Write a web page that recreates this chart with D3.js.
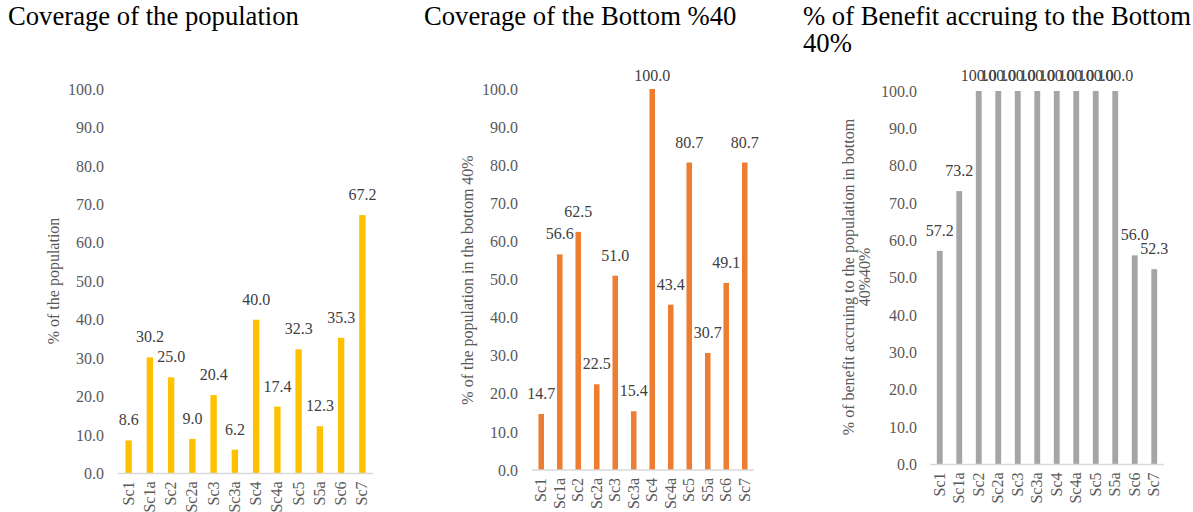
<!DOCTYPE html>
<html>
<head>
<meta charset="utf-8">
<script src="https://cdn.jsdelivr.net/npm/d3@7"></script>
<style>
  html, body { margin: 0; padding: 0; background: #fff; }
  svg text { font-family: 'Liberation Serif', 'Times New Roman', Tinos, serif !important; }
</style>
</head>
<body>
<svg id="chart" width="1193" height="512"></svg>
<script>
// Scenario categories shared by all three panels
const categories = ["Sc1", "Sc1a", "Sc2", "Sc2a", "Sc3", "Sc3a", "Sc4", "Sc4a", "Sc5", "S5a", "Sc6", "Sc7"];

// Coverage of the population (%)
const coverageAll = [8.6, 30.2, 25.0, 9.0, 20.4, 6.2, 40.0, 17.4, 32.3, 12.3, 35.3, 67.2];
// Coverage of the bottom 40% (%)
const coverageBottom40 = [14.7, 56.6, 62.5, 22.5, 51.0, 15.4, 100.0, 43.4, 80.7, 30.7, 49.1, 80.7];
// Share of benefit accruing to the bottom 40% (%)
const benefitBottom40 = [57.2, 73.2, 100.0, 100.0, 100.0, 100.0, 100.0, 100.0, 100.0, 100.0, 56.0, 52.3];

// Value axis ticks
const yTicks = [0, 10, 20, 30, 40, 50, 60, 70, 80, 90, 100];

const panelTitles = [
  ["Coverage of the population"],
  ["Coverage of the Bottom %40"],
  ["% of Benefit accruing to the Bottom", "40%"]
];
const axisTitles = [
  ["% of the population"],
  ["% of the population in the bottom 40%"],
  ["% of benefit accruing to the population in bottom", "40%40%"]
];

const svg = d3.select("#chart");

// Layout of each panel
const panels = [
  { values: coverageAll,      color: "#FFC000", titleX: 8,   x0: 118, x1: 373,  yTop: 89, yBase: 473.5, tickX: 104, axisTitleX: [53],       axisTitleY: 281 },
  { values: coverageBottom40, color: "#ED7D31", titleX: 424, x0: 532, x1: 754,  yTop: 89, yBase: 470,   tickX: 518, axisTitleX: [467],      axisTitleY: 280 },
  { values: benefitBottom40,  color: "#A5A5A5", titleX: 803, x0: 930, x1: 1164, yTop: 91, yBase: 464.5, tickX: 917, axisTitleX: [848, 864], axisTitleY: 277 }
];

panels.forEach((p, i) => {
  const g = svg.append("g");

  // Panel title
  const t = g.append("text")
    .attr("x", p.titleX).attr("y", 25)
    .attr("font-size", "26.67px").attr("fill", "#000");
  panelTitles[i].forEach((line, k) => {
    t.append("tspan").attr("x", p.titleX).attr("dy", k === 0 ? 0 : 27).text(line);
  });

  const x = d3.scaleBand().domain(categories).range([p.x0, p.x1])
    .paddingInner(0.7).paddingOuter(0.35);
  const y = d3.scaleLinear().domain([0, 100]).range([p.yBase, p.yTop]);

  // Value axis labels (no line, no tick marks)
  const yAxis = d3.axisLeft(y).tickValues(yTicks).tickFormat(d3.format(".1f")).tickSize(0).tickPadding(0);
  const ya = g.append("g").attr("transform", `translate(${p.tickX},0)`).call(yAxis);
  ya.attr("font-family", null);
  ya.select(".domain").remove();
  ya.selectAll("text").attr("font-size", "16px").attr("fill", "#595959");

  // Bars
  g.selectAll("rect.bar").data(p.values).join("rect")
    .attr("class", "bar")
    .attr("x", (d, j) => x(categories[j]))
    .attr("width", x.bandwidth())
    .attr("y", d => y(d))
    .attr("height", d => y(0) - y(d))
    .attr("fill", p.color);

  // Category axis
  const xAxis = d3.axisBottom(x).tickSize(0).tickPadding(0);
  const xa = g.append("g").attr("transform", `translate(0,${p.yBase})`).call(xAxis);
  xa.attr("font-family", null);
  xa.select(".domain").attr("stroke", "#D9D9D9").attr("stroke-width", 1.3)
    .attr("d", `M${p.x0},0H${p.x1}`);
  xa.selectAll("text")
    .attr("font-size", "16px").attr("fill", "#595959")
    .attr("text-anchor", "end")
    .attr("dy", null)
    .attr("y", 0)
    .attr("transform", "translate(5,8) rotate(-90)");

  // Data labels above the bars, kept inside the chart area
  g.selectAll("text.lbl").data(p.values).join("text")
    .attr("class", "lbl")
    .attr("x", (d, j) => x(categories[j]) + x.bandwidth() / 2)
    .attr("y", d => Math.max(y(d) - 15, 80.5))
    .attr("text-anchor", "middle")
    .attr("font-size", "16px").attr("fill", "#404040")
    .text(d => d3.format(".1f")(d));

  // Axis title
  axisTitles[i].forEach((line, k) => {
    g.append("text")
      .attr("transform", `translate(${p.axisTitleX[k]},${p.axisTitleY}) rotate(-90)`)
      .attr("text-anchor", "middle")
      .attr("dominant-baseline", "central")
      .attr("font-size", "16px").attr("fill", "#595959")
      .text(line);
  });
});
</script>
</body>
</html>
